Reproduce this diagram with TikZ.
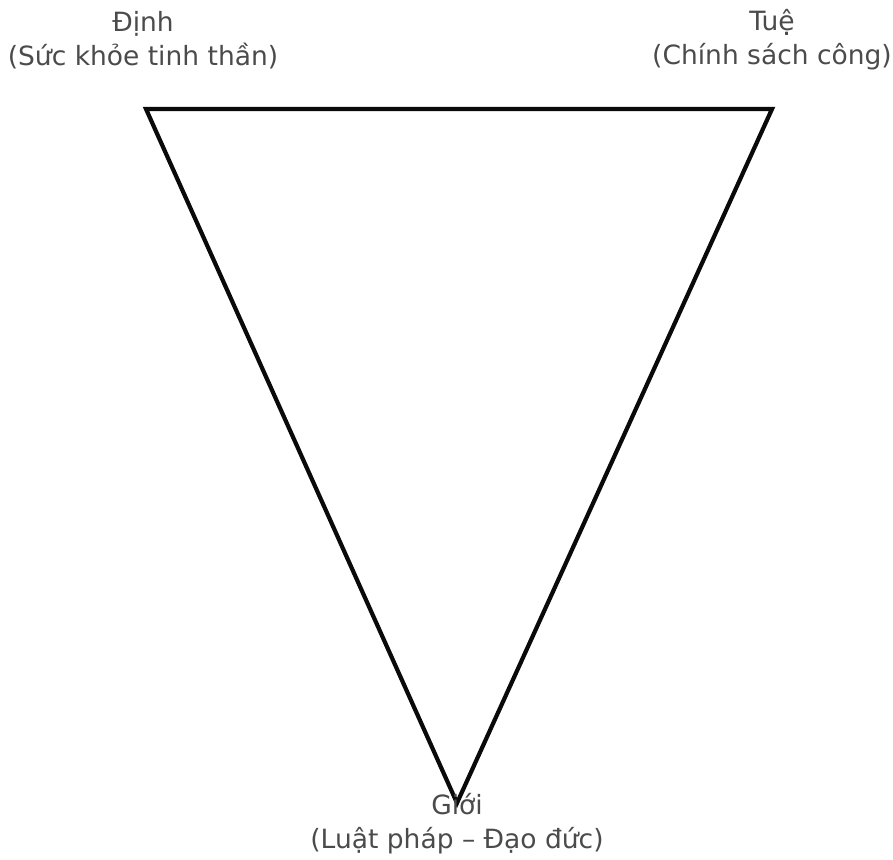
\documentclass[tikz,border=0pt]{standalone}
\usepackage{fontspec}
\setmainfont{DejaVu Sans}
\usepackage{tikz}
\usetikzlibrary{positioning, calc}
\definecolor{triink}  {RGB}{ 10,  10,  10}
\definecolor{trilabel}{RGB}{ 75,  75,  75}

\begin{document}
\begin{tikzpicture}[x=1pt,y=-1pt,
		vertexlabel/.style={text=trilabel,font=\fontsize{26.5}{34}\selectfont,align=center,inner sep=0pt}]
				\useasboundingbox (0,0) rectangle (893,859);
				\coordinate (dinh) at (146,109);
				\coordinate (tue) at (772,109);
				\coordinate (gioi) at (457,803);
				\draw[triink,line width=4.2pt,line join=miter] (dinh) -- (tue) -- (gioi) -- cycle;
				\node[vertexlabel] (dinhlabel) at (143,40) {Định\\(Sức khỏe tinh thần)};
				\node[vertexlabel] (tuelabel) at (772,40) {Tuệ\\(Chính sách công)};
				\node[vertexlabel] (gioilabel) at (457,824) {Giới\\(Luật pháp – Đạo đức)};
			\end{tikzpicture}
\end{document}
